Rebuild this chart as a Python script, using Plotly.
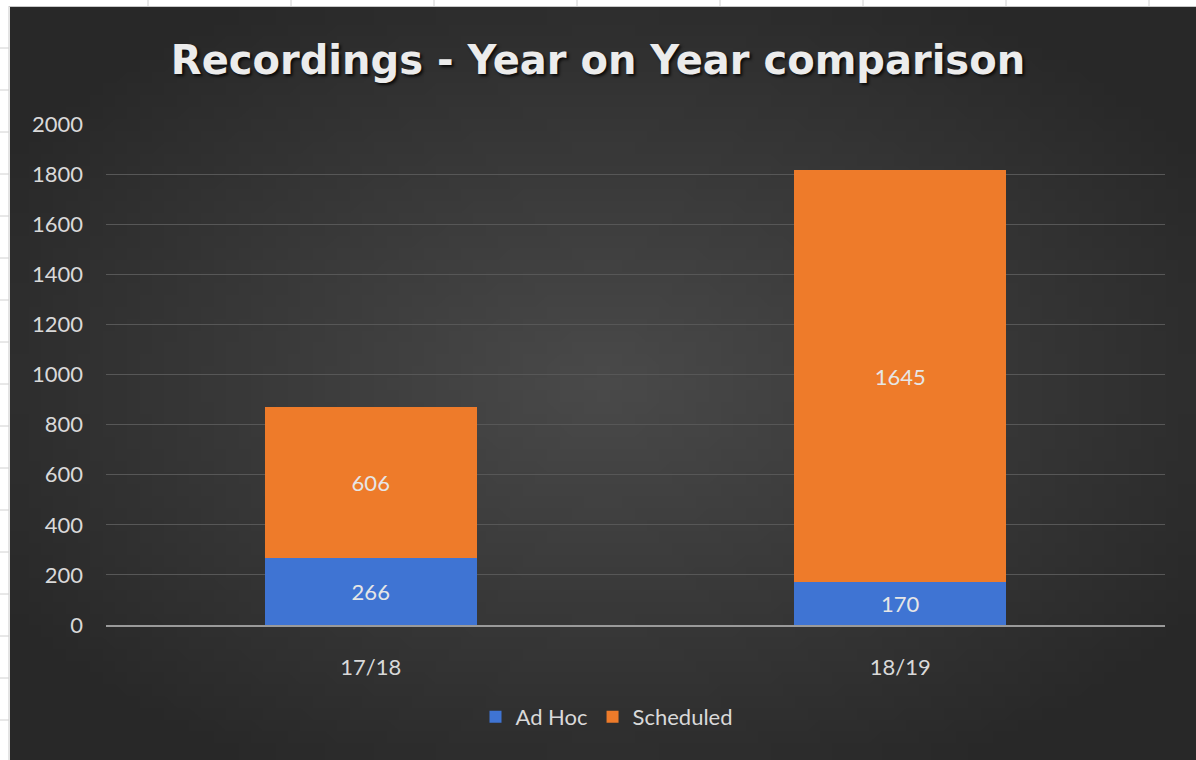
import zlib, struct, base64
import plotly.graph_objects as go

# ---- data ----
categories = ["17/18", "18/19"]
ad_hoc = [266, 170]
scheduled = [606, 1645]
series_names = ["Ad Hoc", "Scheduled"]
y_ticks = [0, 200, 400, 600, 800, 1000, 1200, 1400, 1600, 1800, 2000]

# ---- radial gradient background image (pure python PNG) ----
def radial_png(w, h, inner, outer):
    rows = []
    cx, cy = (w - 1) / 2, (h - 1) / 2
    for j in range(h):
        row = bytearray([0])
        for i in range(w):
            dx = (i - cx) / cx
            dy = (j - cy) / cy
            d = min(1.0, (dx * dx + dy * dy) ** 0.5 / 1.2)
            v = int(round(inner + (outer - inner) * d))
            row += bytes([v, v, v])
        rows.append(bytes(row))
    raw = b"".join(rows)
    def chunk(t, data):
        c = struct.pack(">I", len(data)) + t + data
        return c + struct.pack(">I", zlib.crc32(t + data) & 0xffffffff)
    png = b"\x89PNG\r\n\x1a\n"
    png += chunk(b"IHDR", struct.pack(">IIBBBBB", w, h, 8, 2, 0, 0, 0))
    png += chunk(b"IDAT", zlib.compress(raw, 9))
    png += chunk(b"IEND", b"")
    return "data:image/png;base64," + base64.b64encode(png).decode()

bg = radial_png(96, 64, 0x4a, 0x28)

# ---- layout geometry (pixels) ----
W_FIG, H_FIG = 1196, 760
ML, MR, MT, MB = 106, 31, 124, 135
PW = W_FIG - ML - MR
PH = H_FIG - MT - MB
def px(x):
    return (x - ML) / PW
def py(y):
    return (H_FIG - MB - y) / PH

label_font = dict(family="Lato, 'Noto Sans', sans-serif", size=22, color="#e6e6e6")

fig = go.Figure()
fig.add_trace(go.Bar(
    x=categories, y=ad_hoc, name=series_names[0],
    marker=dict(color="#3f74d3", line=dict(width=0)),
    text=ad_hoc, textposition="inside", insidetextanchor="middle",
    textfont=label_font,
))
fig.add_trace(go.Bar(
    x=categories, y=scheduled, name=series_names[1],
    marker=dict(color="#ee7b2a", line=dict(width=0)),
    text=scheduled, textposition="inside", insidetextanchor="middle",
    textfont=label_font,
))

shapes = [
    # spreadsheet white margins
    dict(type="rect", xref="paper", yref="paper", x0=px(0), x1=px(10), y0=py(H_FIG), y1=py(0),
         fillcolor="white", line=dict(width=0), layer="below"),
    dict(type="rect", xref="paper", yref="paper", x0=px(0), x1=px(W_FIG), y0=py(7), y1=py(0),
         fillcolor="white", line=dict(width=0), layer="below"),
    dict(type="line", xref="paper", yref="paper", x0=px(9), x1=px(9), y0=py(H_FIG), y1=py(6),
         line=dict(color="#c8c8c8", width=1)),
    dict(type="line", xref="paper", yref="paper", x0=px(9), x1=px(W_FIG), y0=py(6.5), y1=py(6.5),
         line=dict(color="#c8c8c8", width=1)),
]
for yy in range(48, 760, 42):
    shapes.append(dict(type="line", xref="paper", yref="paper", x0=px(0), x1=px(9), y0=py(yy), y1=py(yy),
                       line=dict(color="#d0d0d0", width=1)))
for xx in range(148, 1196, 143):
    shapes.append(dict(type="line", xref="paper", yref="paper", x0=px(xx), x1=px(xx), y0=py(6), y1=py(0),
                       line=dict(color="#d0d0d0", width=1)))

fig.update_layout(
    width=W_FIG, height=H_FIG,
    margin=dict(l=ML, r=MR, t=MT, b=MB, pad=0),
    paper_bgcolor="white",
    plot_bgcolor="rgba(0,0,0,0)",
    barmode="stack",
    bargap=0.6,
    title=dict(
        text="<b>Recordings - Year on Year comparison</b>",
        x=0.5, xref="container", xanchor="center",
        y=1 - 60 / H_FIG, yref="container", yanchor="middle",
        font=dict(family="'DejaVu Sans', sans-serif", size=40, color="#ececec",
                  shadow="2px 2px 3px rgba(0,0,0,0.8)"),
    ),
    images=[dict(
        source=bg, xref="paper", yref="paper",
        x=px(10), y=py(7), sizex=px(W_FIG) - px(10), sizey=py(7) - py(H_FIG),
        xanchor="left", yanchor="top", sizing="stretch", layer="below",
    )],
    shapes=shapes,
    legend=dict(
        orientation="h", x=px(607), xanchor="center", y=py(717), yanchor="middle",
        font=dict(family="Lato, 'Noto Sans', sans-serif", size=22, color="#d9d9d9"),
        bgcolor="rgba(0,0,0,0)", itemwidth=30, traceorder="normal",
    ),
    xaxis=dict(
        showgrid=False, showline=True, linecolor="#9a9a9a", linewidth=2,
        ticks="", tickfont=dict(family="Lato, 'Noto Sans', sans-serif", size=22, color="#d9d9d9"),
        ticklabelstandoff=22,
    ),
    yaxis=dict(
        range=[0, 2000], tickvals=y_ticks,
        showgrid=True, gridcolor="#575757", gridwidth=1, zeroline=False,
        showline=False, ticks="",
        tickfont=dict(family="Lato, 'Noto Sans', sans-serif", size=22, color="#d9d9d9"),
        ticklabelstandoff=22,
    ),
    uniformtext=dict(mode=False),
)

fig.write_html("out.html")
